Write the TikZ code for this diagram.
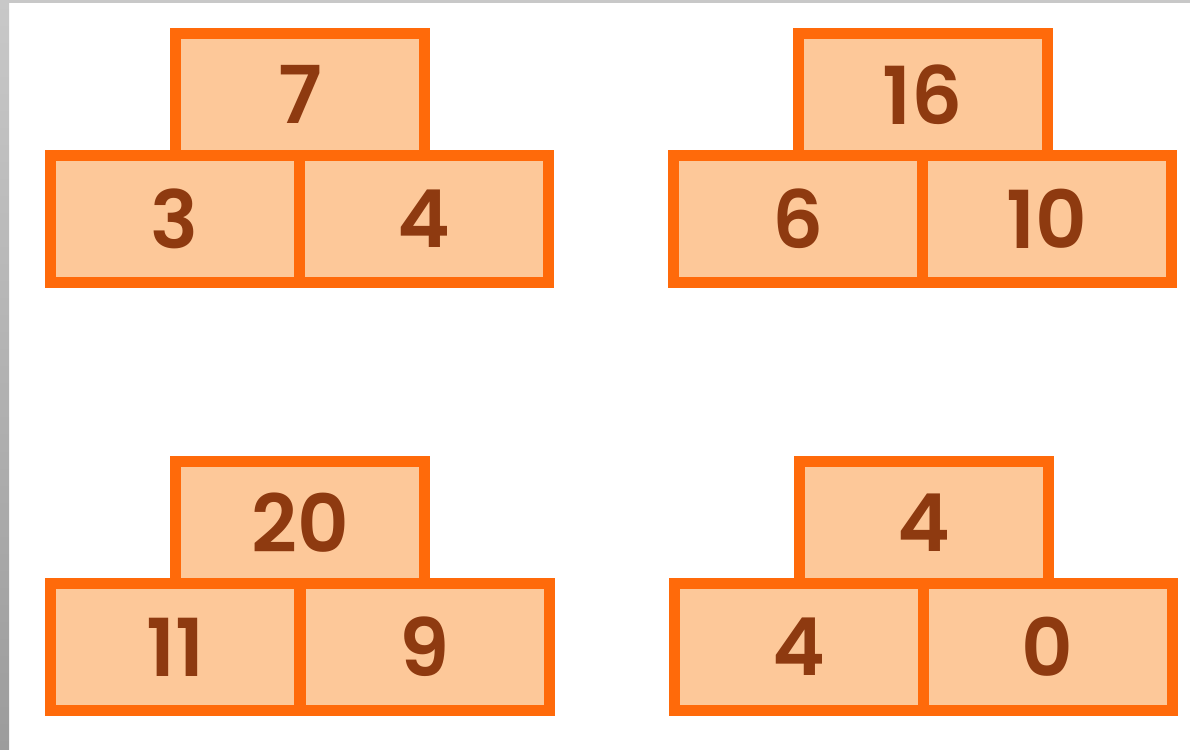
\documentclass[tikz,border=0pt]{standalone}
\usepackage{fontspec}
\setmainfont{Poppins}[BoldFont={Poppins SemiBold}]
\usetikzlibrary{positioning}
\definecolor{brick}{HTML}{FF6A0A}
\definecolor{peach}{HTML}{FDC899}
\definecolor{numtxt}{HTML}{8E3A10}
\definecolor{edgetop}{HTML}{C8C8C8}
\definecolor{edgebot}{HTML}{9C9C9C}

\begin{document}
\begin{tikzpicture}[
  x=1pt, y=-1pt,
  every node/.append style={text=numtxt},
  cell/.style={draw=brick, line width=11pt, fill=peach, inner sep=0pt,
    font=\fontsize{80}{80}\selectfont\bfseries},
  topcell/.style={cell, minimum width=249pt, minimum height=122pt},
  basecell/.style={cell, minimum width=249pt, minimum height=127pt},
]
\useasboundingbox (0,0) rectangle (1190,749);
\fill[white] (0,0) rectangle (1190,749);
% grey frame edge
\shade[top color=edgetop, bottom color=edgebot] (0,0) rectangle (9,749);
\fill[edgetop] (0,0) rectangle (1190,3);
% pyramid 7 = 3 + 4
\node[topcell] (seven) at (300,94.5) {7};
\node[basecell] (three) at (174.8,219) {3};
\node[basecell] (four) at (424.2,219) {4};
% pyramid 16 = 6 + 10
\node[topcell] (sixteen) at (923,94.5) {16};
\node[basecell] (six) at (797.8,219) {6};
\node[basecell] (ten) at (1047.2,219) {10};
% pyramid 20 = 11 + 9
\node[topcell] (twenty) at (300,522.5) {20};
\node[basecell] (eleven) at (175,647) {11};
\node[basecell] (nine) at (424.5,647) {9};
% pyramid 4 = 4 + 0
\node[topcell] (fourtop) at (923.5,522.5) {4};
\node[basecell] (fourleft) at (798.5,647) {4};
\node[basecell] (zero) at (1047.5,647) {0};
\end{tikzpicture}
\end{document}
